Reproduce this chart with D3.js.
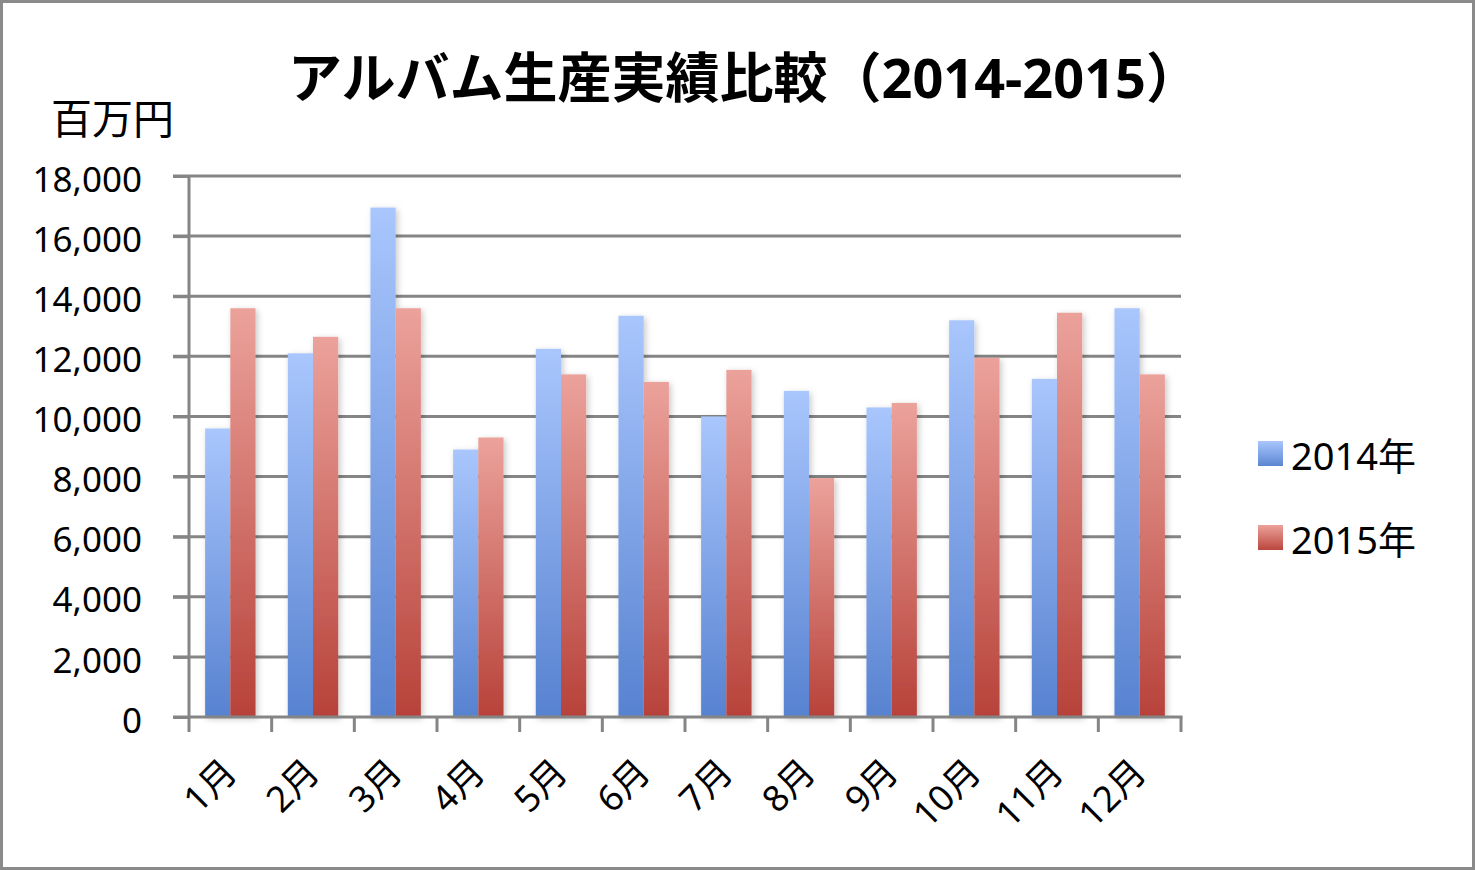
<!DOCTYPE html>
<html><head><meta charset="utf-8">
<script src="https://cdn.jsdelivr.net/npm/d3@7/dist/d3.min.js"></script>
<style>
html,body{margin:0;padding:0;background:#fff;}
svg{display:block;}
text{font-family:"Noto Sans","Noto Sans CJK JP",sans-serif;fill:#000;}
</style></head>
<body>
<script>
const months = ["1月","2月","3月","4月","5月","6月","7月","8月","9月","10月","11月","12月"];
const seriesNames = ["2014年","2015年"];
const values2014 = [9600,12100,16950,8900,12250,13350,10000,10850,10300,13200,11250,13600];
const values2015 = [13600,12650,13600,9300,11400,11150,11550,7950,10450,11950,13450,11400];
const yTicks = [0,2000,4000,6000,8000,10000,12000,14000,16000,18000];
const titleText = "アルバム生産実績比較（2014-2015）";
const unitText = "百万円";

(function(){
const W = 1475, H = 870;
const pLeft = 189, pRight = 1181, pTop = 176, pBottom = 717;

const svg = d3.select("body").append("svg").attr("width", W).attr("height", H);
const defs = svg.append("defs");

function grad(id, c1, c2){
  const g = defs.append("linearGradient").attr("id",id).attr("x1",0).attr("y1",0).attr("x2",0).attr("y2",1);
  g.append("stop").attr("offset","0%").attr("stop-color",c1);
  g.append("stop").attr("offset","100%").attr("stop-color",c2);
}
grad("gBlue","#a9c6fd","#5782d0");
grad("gRed","#eba29b","#b7423a");
grad("lBlue","#a9c6fd","#5c86d2");
grad("lRed","#eba29b","#bb463d");

const shadow = defs.append("filter").attr("id","shadow").attr("x","-30%").attr("y","-10%").attr("width","160%").attr("height","130%");
shadow.append("feDropShadow").attr("dx",2).attr("dy",2).attr("stdDeviation",3).attr("flood-color","#000").attr("flood-opacity",0.22);

// border
svg.append("rect").attr("x",1.5).attr("y",1.5).attr("width",W-3).attr("height",H-3)
  .attr("fill","#fff").attr("stroke","#8a8a8a").attr("stroke-width",3);

const x = d3.scaleBand().domain(months).range([pLeft,pRight]).paddingInner(0.39).paddingOuter(0.195);
const xs = d3.scaleBand().domain(seriesNames).range([0,x.bandwidth()]);
const y = d3.scaleLinear().domain([0,18000]).range([pBottom,pTop]);

// grid
svg.append("g").selectAll("line").data(yTicks.filter(d=>d>0)).join("line")
  .attr("x1",pLeft-16).attr("x2",pRight).attr("y1",d=>y(d)).attr("y2",d=>y(d))
  .attr("stroke","#858585").attr("stroke-width",3);

// bars
const data = months.map((m,i)=>({m, vals:[values2014[i],values2015[i]]}));
const grp = svg.append("g").attr("filter","url(#shadow)");
const gg = grp.selectAll("g").data(data).join("g").attr("transform",d=>`translate(${x(d.m)},0)`);
gg.selectAll("rect").data(d=>d.vals.map((v,j)=>({name:seriesNames[j],v,j}))).join("rect")
  .attr("x",d=>xs(d.name)).attr("width",xs.bandwidth())
  .attr("y",d=>y(d.v)).attr("height",d=>pBottom-y(d.v))
  .attr("fill",d=>d.j===0?"url(#gBlue)":"url(#gRed)");

// y axis
const yAxis = d3.axisLeft(y).tickValues(yTicks).tickFormat(d3.format(",")).tickSize(16).tickPadding(31);
const ya = svg.append("g").attr("transform",`translate(${pLeft},0)`).call(yAxis);
ya.select(".domain").remove();
ya.selectAll("line").attr("stroke","#858585").attr("stroke-width",3);
ya.selectAll("text").attr("font-size",35).attr("fill","#000").attr("y",4)
  .attr("font-family",'"Noto Sans",sans-serif');
svg.append("line").attr("x1",pLeft).attr("x2",pLeft).attr("y1",pTop).attr("y2",pBottom+1.5)
  .attr("stroke","#858585").attr("stroke-width",3);

// x axis
svg.append("line").attr("x1",pLeft-16).attr("x2",pRight+1.5).attr("y1",pBottom).attr("y2",pBottom)
  .attr("stroke","#858585").attr("stroke-width",3);
const tickXs = months.map(m=>x(m)-x.step()*x.paddingInner()/2).concat([pRight]);
svg.append("g").selectAll("line").data(tickXs).join("line")
  .attr("x1",d=>d).attr("x2",d=>d).attr("y1",pBottom).attr("y2",pBottom+15)
  .attr("stroke","#858585").attr("stroke-width",3);
svg.append("g").selectAll("text").data(months).join("text")
  .attr("transform",d=>`translate(${x(d)+x.bandwidth()/2-1},${pBottom+48}) rotate(-45)`)
  .attr("text-anchor","end").attr("dominant-baseline","central")
  .attr("font-size",36).text(d=>d);

// title
svg.append("text").attr("x",744).attr("y",98).attr("text-anchor","middle")
  .attr("font-size",54).attr("font-weight","bold")
  .attr("font-family",'"Noto Sans CJK JP",sans-serif').text(titleText);
svg.append("text").attr("x",51).attr("y",134).attr("font-size",41)
  .attr("font-family",'"Noto Sans CJK JP",sans-serif').text(unitText);

// legend
const legY = [453,537];
const lg = svg.append("g").selectAll("g").data(seriesNames).join("g")
  .attr("transform",(d,i)=>`translate(1258,${legY[i]})`);
lg.append("rect").attr("x",0).attr("y",-12).attr("width",25).attr("height",25)
  .attr("fill",(d,i)=>i===0?"url(#lBlue)":"url(#lRed)");
lg.append("text").attr("x",33).attr("y",2).attr("dominant-baseline","central")
  .attr("font-size",38).text(d=>d);
})();
</script>
</body></html>
